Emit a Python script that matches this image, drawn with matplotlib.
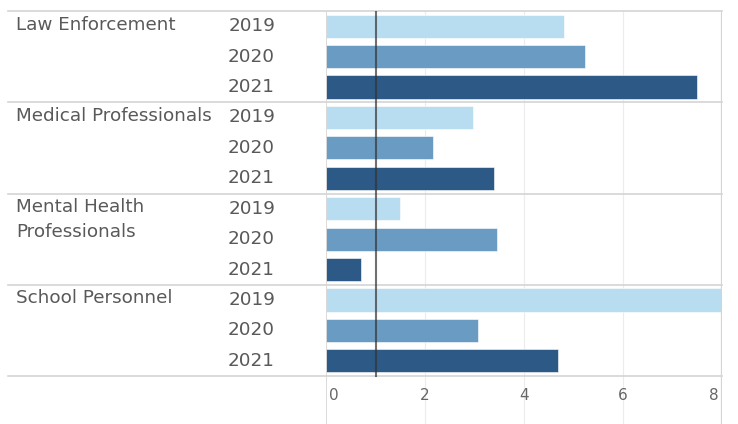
import matplotlib
matplotlib.use("Agg")
import matplotlib.pyplot as plt
from matplotlib.transforms import blended_transform_factory

categories = ["Law Enforcement", "Medical Professionals", "Mental Health\nProfessionals", "School Personnel"]
years = ["2019", "2020", "2021"]
values = {
    "Law Enforcement": [4.8, 5.23, 7.49],
    "Medical Professionals": [2.97, 2.16, 3.39],
    "Mental Health\nProfessionals": [1.49, 3.45, 0.71],
    "School Personnel": [8.05, 3.07, 4.69],
}
ref_value = 1.0
xticks = [0, 2, 4, 6, 8]
colors = ["#b9ddf0", "#6a9bc3", "#2c5985"]

W, H = 738, 424
fig = plt.figure(figsize=(W / 100, H / 100), dpi=100)
x0, x1 = 326, 722
ytop, ybot = 11, 424
ax = fig.add_axes([x0 / W, 0, (x1 - x0) / W, (H - ytop) / H])

nrows = len(categories) * len(years)
row_px = (376 - 11) / nrows
extra = (ybot - 376) / row_px
ax.set_xlim(0, 8)
ax.set_ylim(nrows - 0.5 + extra, -0.5)
for s in ax.spines.values():
    s.set_visible(False)
ax.set_xticks([])
ax.set_yticks([])

grid_c = "#ececec"
border_c = "#d4d4d4"
for t in xticks[1:-1]:
    ax.axvline(t, color=grid_c, lw=0.8, zorder=0)
ax.axvline(0, color=border_c, lw=1.2, zorder=3)
ax.axvline(8, color=border_c, lw=1.6, zorder=3)

text_c = "#595959"
font = ["DejaVu Sans"]
xleft = (8 - x0) / (x1 - x0) * 8
trans_lab = blended_transform_factory(fig.transFigure, ax.transData)
line_gap = 25 / row_px

row = 0
for ci, cat in enumerate(categories):
    vals = values[cat]
    for li, line in enumerate(cat.split("\n")):
        ax.text(16 / W, row - 0.05 + li * line_gap, line, transform=trans_lab,
                ha="left", va="center", fontsize=13.2, color=text_c, family=font)
    for yi, yr in enumerate(years):
        y = row + yi
        ax.barh(y, min(vals[yi], 8.0), height=0.76, color=colors[yi],
                edgecolor="white", linewidth=0.4, zorder=2)
        ax.text(275 / W, y, yr, transform=trans_lab, ha="right", va="center",
                fontsize=13.2, color=text_c, family=font)
    row += len(years)
    ax.plot([xleft, 8], [row - 0.5, row - 0.5], color=border_c, lw=1.2,
            clip_on=False, zorder=3)

# top border
ax.plot([xleft, 8], [-0.5, -0.5], color=border_c, lw=1.2, clip_on=False, zorder=3)

# reference line
ax.plot([ref_value, ref_value], [-0.5, nrows - 0.5], color="#333333", lw=1.5,
        alpha=0.7, zorder=4)

# x tick labels
ty = nrows - 0.5 + (395 - 376) / row_px
for t in xticks:
    ha = "center"
    xx = t
    if t == 0:
        ha = "left"; xx = 0.06
    elif t == 8:
        ha = "right"; xx = 7.94
    ax.text(xx, ty, str(t), ha=ha, va="center", fontsize=11, color="#666666",
            family=font)

fig.savefig("out.png", dpi=100)
